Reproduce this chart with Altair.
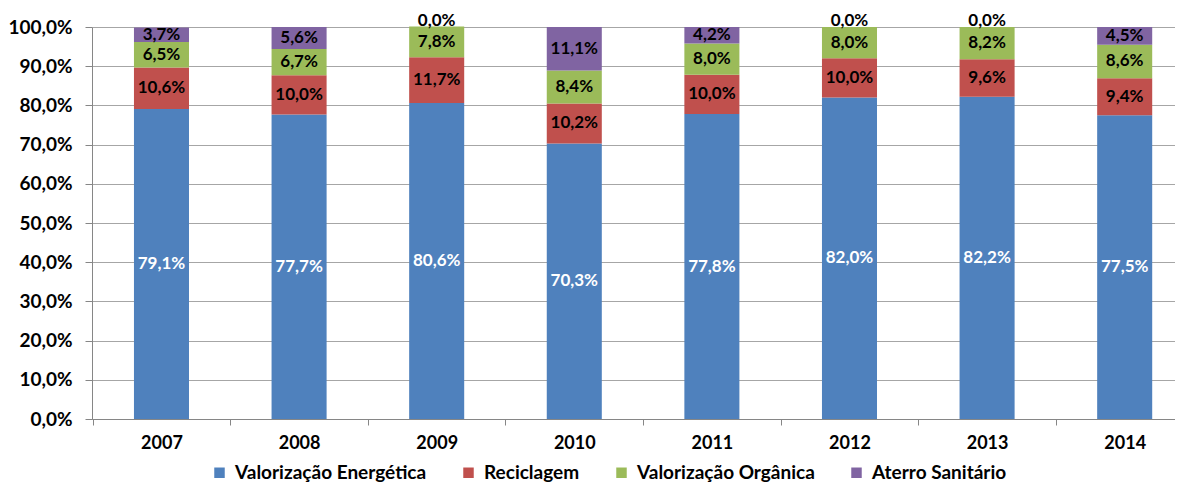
import altair as alt
import pandas as pd

years = ["2007", "2008", "2009", "2010", "2011", "2012", "2013", "2014"]
series = ["Valorização Energética", "Reciclagem", "Valorização Orgânica", "Aterro Sanitário"]
colors = ["#4F81BD", "#C0504D", "#9BBB59", "#8064A2"]

energetica = [79.1, 77.7, 80.6, 70.3, 77.8, 82.0, 82.2, 77.5]
reciclagem = [10.6, 10.0, 11.7, 10.2, 10.0, 10.0, 9.6, 9.4]
organica = [6.5, 6.7, 7.8, 8.4, 8.0, 8.0, 8.2, 8.6]
aterro = [3.7, 5.6, 0.0, 11.1, 4.2, 0.0, 0.0, 4.5]

y_ticks = [0, 10, 20, 30, 40, 50, 60, 70, 80, 90, 100]

rows = []
for si, (name, vals) in enumerate(zip(series, [energetica, reciclagem, organica, aterro])):
    for yr, v in zip(years, vals):
        rows.append({"year": yr, "series": name, "order": si, "value": v,
                     "label": f"{v:.1f}".replace(".", ",") + "%"})
df = pd.DataFrame(rows)

FONT = "Lato"

base = alt.Chart(df).transform_stack(
    stack="value", groupby=["year"], as_=["y0", "y1"],
    sort=[alt.SortField("order", order="ascending")]
).transform_calculate(mid="(datum.y0 + datum.y1) / 2")

x_enc = alt.X("year:N", sort=years, title=None,
              scale=alt.Scale(paddingInner=0.6, paddingOuter=0.2353, align=0.648),
              axis=alt.Axis(labelAngle=0, labelFont=FONT, labelFontWeight="bold",
                            labelFontSize=18, labelColor="#000000",
                            domainColor="#868686", tickColor="#868686",
                            tickSize=6, labelPadding=9, grid=False,
                            bandPosition=0.5, tickOffset=-68.8, labelOffset=68.8))

y_scale = alt.Scale(domain=[0, 100], nice=False, zero=True)
y_axis = alt.Axis(values=y_ticks, tickCount=11, labelOverlap=False,
                  labelExpr="replace(format(datum.value, '.1f'), '.', ',') + '%'",
                  labelFont=FONT, labelFontWeight="bold", labelFontSize=19,
                  labelColor="#000000", gridColor="#a6a6a6", grid=True,
                  domainColor="#868686", tickColor="#868686",
                  tickSize=7, labelPadding=13)

bars = base.mark_bar().encode(
    x=x_enc,
    y=alt.Y("y0:Q", title=None, scale=y_scale, axis=y_axis),
    y2="y1:Q",
    color=alt.Color("series:N", scale=alt.Scale(domain=series, range=colors),
                    sort=series,
                    legend=alt.Legend(title=None, orient="none", direction="horizontal",
                                      legendX=118, legendY=436,
                                      symbolType="square", symbolSize=110,
                                      symbolStrokeWidth=0, labelLimit=400,
                                      labelFont=FONT, labelFontWeight="bold",
                                      labelFontSize=19, labelColor="#000000",
                                      columnPadding=32, symbolOffset=0,
                                      labelOffset=6)),
    order=alt.Order("order:Q", sort="ascending"),
)

texts = base.transform_filter("datum.value > 0").mark_text(
    font=FONT, fontWeight="bold", fontSize=17, baseline="middle"
).encode(
    x=alt.X("year:N", sort=years),
    y=alt.Y("mid:Q", title=None, scale=y_scale, axis=y_axis),
    text="label:N",
    color=alt.condition("datum.order == 0", alt.value("white"), alt.value("black")),
)

zeros = base.transform_filter("datum.value == 0").mark_text(
    font=FONT, fontWeight="bold", fontSize=17, baseline="middle", dy=-6
).encode(
    x=alt.X("year:N", sort=years),
    y=alt.Y("mid:Q", title=None, scale=y_scale, axis=y_axis),
    text="label:N",
    color=alt.value("black"),
)

chart = alt.layer(bars, texts, zeros).properties(
    width=1083, height=392,
    autosize=alt.AutoSizeParams(type="none"),
    padding={"left": 84, "top": 19, "right": 0, "bottom": 65},
).configure_view(stroke=None)

chart.save("out.html", embed_options={"renderer": "svg", "actions": False})
